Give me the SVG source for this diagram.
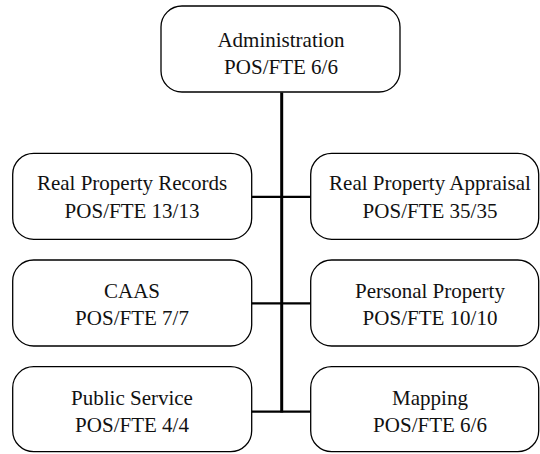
<svg xmlns="http://www.w3.org/2000/svg" width="540" height="454" viewBox="0 0 540 454">
  <style>
    .box { fill: #ffffff; stroke: #000000; stroke-width: 1.3; }
    .lbl { font-family: "Liberation Serif", "Times New Roman", serif; font-size: 21px; fill: #111111; text-anchor: middle; }
    .trunk { stroke: #000000; stroke-width: 3; fill: none; }
    .branch { stroke: #000000; stroke-width: 2.2; fill: none; }
  </style>
  <rect width="540" height="454" fill="#ffffff"/>

  <!-- connectors: central trunk and horizontal branches -->
  <g id="connectors">
    <line class="trunk" x1="281.7" y1="92.5" x2="281.7" y2="412.5"/>
    <line class="branch" x1="251.7" y1="196.8" x2="310.7" y2="196.8"/>
    <line class="branch" x1="251.7" y1="303.3" x2="310.7" y2="303.3"/>
    <line class="branch" x1="251.7" y1="411.7" x2="310.7" y2="411.7"/>
  </g>

  <g id="administration">
    <rect class="box" x="161" y="6" width="239" height="86" rx="21" ry="21"/>
    <text class="lbl" x="281" y="47">Administration</text>
    <text class="lbl" x="281" y="74">POS/FTE 6/6</text>
  </g>

  <g id="real-property-records">
    <rect class="box" x="12.7" y="153.3" width="239" height="86" rx="21" ry="21"/>
    <text class="lbl" x="132" y="190">Real Property Records</text>
    <text class="lbl" x="132" y="218">POS/FTE 13/13</text>
  </g>

  <g id="real-property-appraisal">
    <rect class="box" x="310.7" y="153.3" width="228" height="86" rx="21" ry="21"/>
    <text class="lbl" x="430" y="190">Real Property Appraisal</text>
    <text class="lbl" x="430" y="218">POS/FTE 35/35</text>
  </g>

  <g id="caas">
    <rect class="box" x="12.7" y="260" width="239" height="86" rx="21" ry="21"/>
    <text class="lbl" x="132" y="297.5">CAAS</text>
    <text class="lbl" x="132" y="325">POS/FTE 7/7</text>
  </g>

  <g id="personal-property">
    <rect class="box" x="310.7" y="260" width="228" height="86" rx="21" ry="21"/>
    <text class="lbl" x="430" y="297.5">Personal Property</text>
    <text class="lbl" x="430" y="325">POS/FTE 10/10</text>
  </g>

  <g id="public-service">
    <rect class="box" x="12.7" y="366.7" width="239" height="85" rx="21" ry="21"/>
    <text class="lbl" x="132" y="404.5">Public Service</text>
    <text class="lbl" x="132" y="432">POS/FTE 4/4</text>
  </g>

  <g id="mapping">
    <rect class="box" x="310.7" y="366.7" width="228" height="85" rx="21" ry="21"/>
    <text class="lbl" x="430" y="404.5">Mapping</text>
    <text class="lbl" x="430" y="432">POS/FTE 6/6</text>
  </g>
</svg>
